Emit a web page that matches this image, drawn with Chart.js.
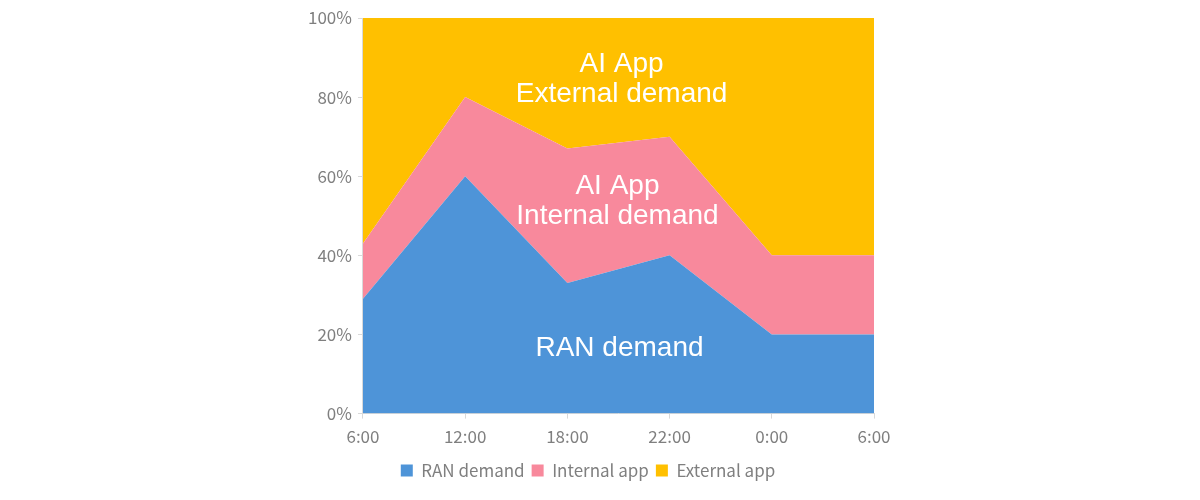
<!DOCTYPE html>
<html>
<head>
<meta charset="utf-8">
<script src="https://cdn.jsdelivr.net/npm/chart.js@4.4.1/dist/chart.umd.min.js"></script>
<style>
  html, body { margin: 0; padding: 0; background: #fff; }
  #wrap { width: 1200px; height: 500px; }
</style>
</head>
<body>
<div id="wrap"><canvas id="demandChart" width="1200" height="500"></canvas></div>
<script>
// time of day along the x axis
const hours = ["6:00", "12:00", "18:00", "22:00", "0:00", "6:00"];

// share of total demand (%)
const ranDemand = [29, 60, 33, 40, 20, 20];
const internalApp = [14, 20, 34, 30, 20, 20];
const externalApp = [57, 20, 33, 30, 60, 60];

// in-chart labels: [lines, x index, y value of each line]
const areaLabels = [
  { lines: ["AI App", "External demand"], x: 2.53, y: [88.4, 80.6] },
  { lines: ["AI App", "Internal demand"], x: 2.49, y: [57.4, 49.8] },
  { lines: ["RAN demand"], x: 2.51, y: [16.5] }
];

const axisGray = "#d9d9d9";
const textGray = "#7f7f7f";
const tickFont = { family: "'Noto Sans CJK JP', 'Noto Sans', sans-serif", size: 17 };

// draws the white text labels inside the areas
const areaLabelPlugin = {
  id: "areaLabels",
  afterDatasetsDraw(chart) {
    const { ctx, scales } = chart;
    ctx.save();
    ctx.fillStyle = "#ffffff";
    ctx.font = "28px 'Liberation Sans', Arial, sans-serif";
    ctx.textAlign = "center";
    ctx.textBaseline = "middle";
    areaLabels.forEach((lab) => {
      const px = scales.x.getPixelForValue(lab.x);
      lab.lines.forEach((txt, i) => {
        ctx.fillText(txt, px, scales.y.getPixelForValue(lab.y[i]));
      });
    });
    ctx.restore();
  }
};

const ctx = document.getElementById("demandChart").getContext("2d");
new Chart(ctx, {
  type: "line",
  data: {
    labels: hours,
    datasets: [
      {
        label: "RAN demand",
        data: ranDemand,
        backgroundColor: "#4e94d8",
        borderColor: "#4e94d8",
        fill: "origin"
      },
      {
        label: "Internal app",
        data: internalApp,
        backgroundColor: "#f8899c",
        borderColor: "#f8899c",
        fill: "-1"
      },
      {
        label: "External app",
        data: externalApp,
        backgroundColor: "#ffc000",
        borderColor: "#ffc000",
        fill: "-1"
      }
    ]
  },
  options: {
    responsive: false,
    animation: false,
    elements: {
      line: { tension: 0, borderWidth: 0 },
      point: { radius: 0, hoverRadius: 0 }
    },
    layout: { padding: { left: 302, right: 326, top: 18, bottom: 11 } },
    plugins: {
      legend: {
        position: "bottom",
        labels: {
          boxWidth: 12,
          boxHeight: 12,
          padding: 7,
          color: textGray,
          font: tickFont
        }
      },
      tooltip: { enabled: false }
    },
    scales: {
      x: {
        offset: false,
        grid: {
          display: true,
          drawOnChartArea: false,
          drawTicks: true,
          tickLength: 5,
          color: axisGray
        },
        border: { color: axisGray },
        ticks: { color: textGray, font: tickFont, maxRotation: 0, padding: 8 }
      },
      y: {
        stacked: true,
        min: 0,
        max: 100,
        grid: {
          display: true,
          drawOnChartArea: false,
          drawTicks: true,
          tickLength: 5,
          color: axisGray
        },
        border: { color: axisGray },
        ticks: {
          stepSize: 20,
          color: textGray,
          font: tickFont,
          padding: 6,
          callback: (v) => v + "%"
        }
      }
    }
  },
  plugins: [areaLabelPlugin]
});
</script>
</body>
</html>
